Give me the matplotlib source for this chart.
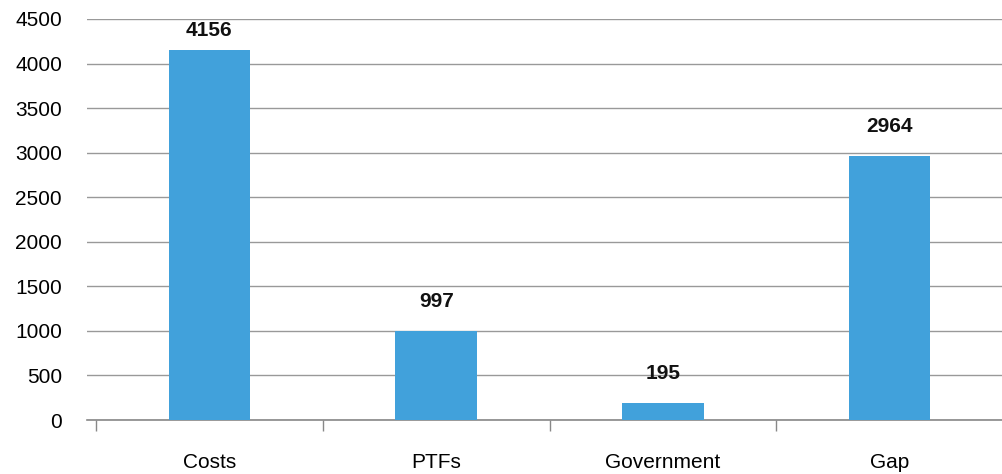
import matplotlib.pyplot as plt
import numpy as np

categories = ['Costs', 'PTFs', 'Government', 'Gap']
values = [4156, 997, 195, 2964]

plt.rcParams['font.family'] = ['Liberation Sans', 'DejaVu Sans']

fig = plt.figure(figsize=(10.03, 4.74), dpi=100)
ax = fig.add_axes([87 / 1003, 1 - 420 / 474, (1003 - 87) / 1003, (420 - 19) / 474])

x = np.arange(len(categories))
ax.bar(x, values, width=0.36, color='#41a1db', zorder=3)

# labels sit above the bars, kept under the top gridline like the original
for xi, v in zip(x, values):
    ax.text(xi, min(v + 330, 4370), str(v), ha='center', va='center',
            fontsize=15, fontweight='bold', color='#111111')

ax.set_ylim(0, 4500)
ax.set_yticks(np.arange(0, 4501, 500))
ax.set_xlim(-0.54, 3.47)
ax.set_xticks(x)
ax.set_xticklabels(categories, fontsize=15)
ax.set_xticks(np.arange(-0.5, 4, 1), minor=True)
ax.tick_params(axis='x', which='major', length=0, pad=24)
ax.tick_params(axis='x', which='minor', length=8, color='#888888', width=1)
ax.tick_params(axis='y', length=0, labelsize=15, pad=18)

ax.grid(True, axis='y', color='#999999', linewidth=1, zorder=0)
for s in ['left', 'right', 'top']:
    ax.spines[s].set_visible(False)
ax.spines['bottom'].set_color('#888888')
ax.spines['bottom'].set_linewidth(1.2)

plt.savefig('out.png', dpi=100)
plt.close()
